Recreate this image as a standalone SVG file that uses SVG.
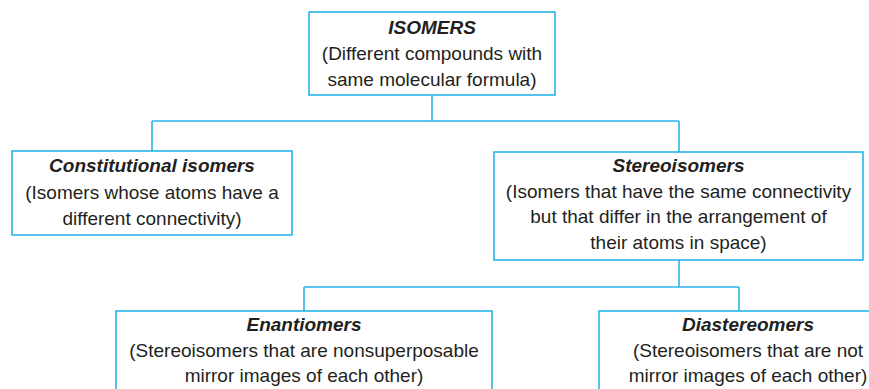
<svg xmlns="http://www.w3.org/2000/svg" width="869" height="389" viewBox="0 0 869 389">
<style>
.box{fill:#ffffff;stroke:#29b5e8;stroke-width:1.6}
.ln{fill:none;stroke:#29b5e8;stroke-width:1.6}
text{font-family:"Liberation Sans",Arial,sans-serif;font-size:19px;fill:#231f20;text-anchor:middle}
.t{font-weight:bold;font-style:italic}
</style>
<rect width="869" height="389" fill="#ffffff"/>
<g id="connectors">
<path class="ln" d="M432,95 V121 M152,121 H679 M152,121 V151 M679,121 V152"/>
<path class="ln" d="M679,260 V287 M304,287 H739 M304,287 V311 M739,287 V311"/>
</g>
<g id="isomers">
<rect class="box" x="309" y="12" width="246" height="83"/>
<text class="t" x="432" y="34">ISOMERS</text>
<text x="432" y="60">(Different compounds with</text>
<text x="432" y="86">same molecular formula)</text>
</g>
<g id="constitutional">
<rect class="box" x="12" y="151" width="280" height="84"/>
<text class="t" x="152" y="172">Constitutional isomers</text>
<text x="152" y="198.5">(Isomers whose atoms have a</text>
<text x="152" y="225">different connectivity)</text>
</g>
<g id="stereoisomers">
<rect class="box" x="494" y="152" width="369" height="108"/>
<text class="t" x="678.5" y="172">Stereoisomers</text>
<text x="678.5" y="197.5">(Isomers that have the same connectivity</text>
<text x="678.5" y="223">but that differ in the arrangement of</text>
<text x="678.5" y="248.5">their atoms in space)</text>
</g>
<g id="enantiomers">
<rect class="box" x="116" y="311" width="376" height="100"/>
<text class="t" x="304" y="331">Enantiomers</text>
<text x="304" y="356.5">(Stereoisomers that are nonsuperposable</text>
<text x="304" y="382">mirror images of each other)</text>
</g>
<g id="diastereomers">
<rect class="box" x="599" y="311" width="300" height="100"/>
<text class="t" x="748" y="331">Diastereomers</text>
<text x="748" y="356.5">(Stereoisomers that are not</text>
<text x="748" y="382">mirror images of each other)</text>
</g>
</svg>
